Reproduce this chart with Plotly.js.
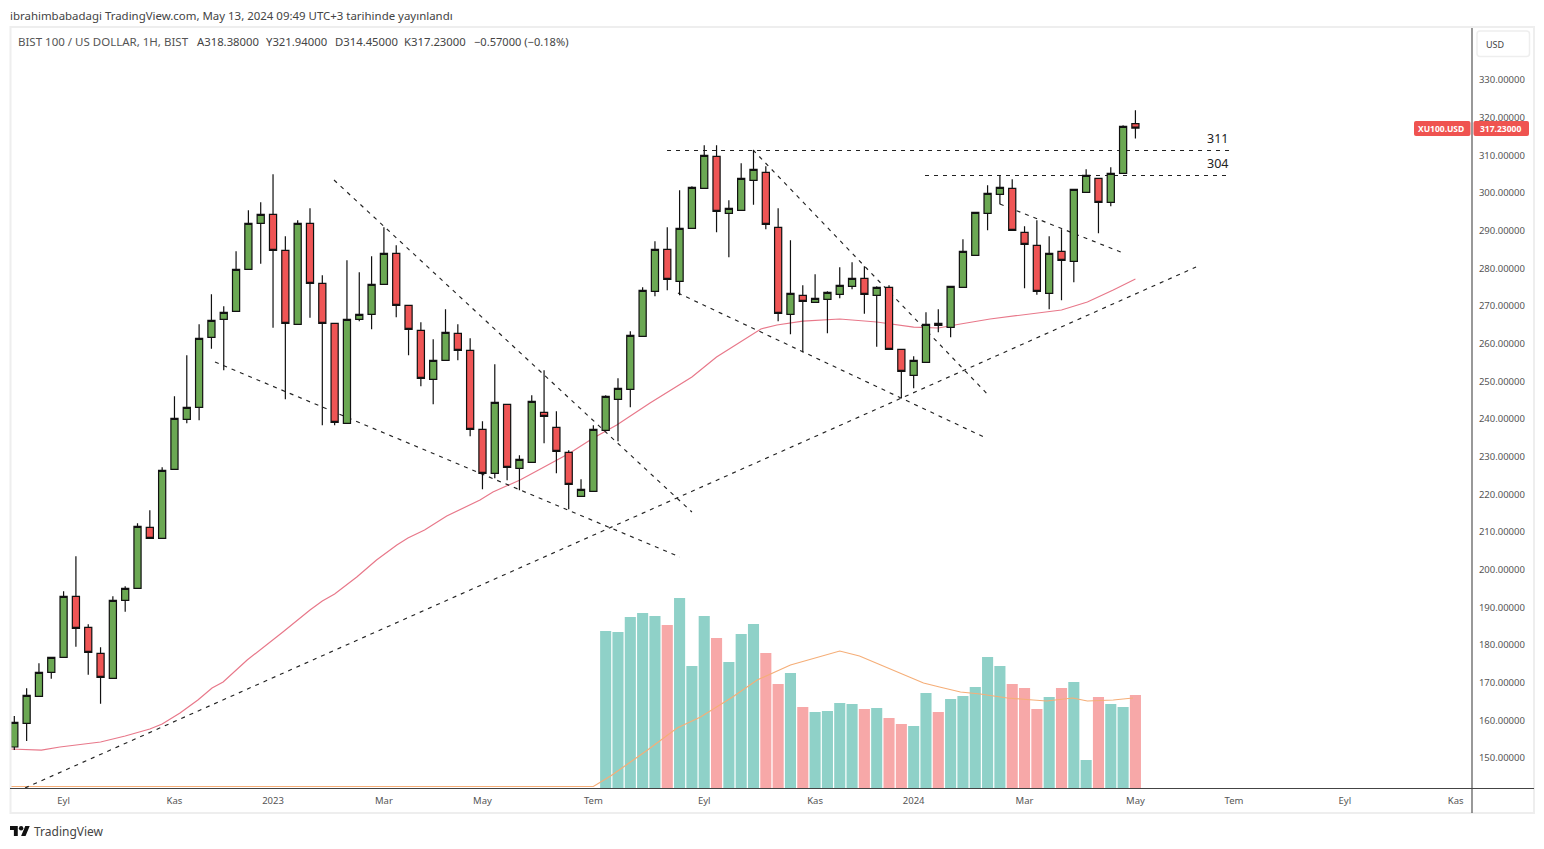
<!DOCTYPE html>
<html><head><meta charset="utf-8">
<script src="https://cdn.plot.ly/plotly-3.0.1.min.js"></script>
<style>html,body{margin:0;padding:0;background:#fff}#chart{width:1544px;height:849px}</style>
</head><body><div id="chart"></div>
<script>
const opens=[152.92,159.21,166.38,172.75,176.73,192.93,184.70,177.79,171.16,191.86,195.05,211.24,208.32,226.64,239.91,243.10,261.68,266.46,268.58,279.73,291.94,294.33,284.77,265.13,291.94,276.01,265.40,238.85,266.46,267.79,275.75,283.98,270.17,263.54,250.53,255.57,262.74,258.23,237.26,225.58,243.89,226.90,228.50,241.77,237.79,231.15,219.47,220.80,236.99,245.22,247.88,261.95,273.89,285.04,276.54,290.62,301.23,309.73,294.60,295.39,303.36,305.48,290.88,267.79,272.83,270.97,271.77,273.09,275.22,277.34,272.83,274.95,258.49,251.59,255.04,265.40,264.33,274.95,283.45,294.60,299.64,301.23,289.55,286.10,273.36,284.51,281.85,300.17,303.89,297.52,305.21,318.38];
const highs=[161.15,168.50,175.14,176.89,194.25,203.54,185.49,179.39,192.93,195.58,212.30,215.75,227.17,246.02,256.90,265.13,273.09,269.91,284.51,295.39,297.52,304.95,288.49,292.74,295.92,278.14,265.40,282.12,278.93,283.18,290.88,286.10,270.17,265.66,261.15,269.11,265.13,261.41,239.38,254.51,243.89,230.35,246.28,252.92,242.04,231.68,223.98,238.32,246.28,250.80,263.27,274.95,287.16,290.88,300.70,301.76,312.65,312.65,298.05,307.87,311.32,307.07,295.92,287.43,275.48,278.40,273.89,280.26,281.59,280.53,275.22,275.48,258.49,256.64,268.32,269.11,275.22,287.69,294.86,302.03,304.68,303.62,291.15,292.74,288.49,290.35,300.97,306.27,303.89,306.81,317.96,321.94];
const lows=[152.12,154.51,166.38,171.05,176.73,179.55,172.11,164.41,171.16,188.84,195.05,208.32,208.32,226.64,238.85,239.65,258.65,252.92,268.58,279.73,281.22,264.23,245.22,265.13,266.88,238.32,238.32,238.85,265.93,263.80,275.75,266.99,256.90,248.67,243.89,255.57,255.57,235.40,221.33,224.25,223.72,221.06,228.50,233.54,225.58,216.02,219.47,220.80,236.99,234.07,243.10,261.95,272.56,274.15,272.83,290.62,301.23,289.55,282.92,295.39,296.88,290.35,265.93,262.48,257.70,270.97,262.74,272.03,274.42,267.95,259.18,258.49,245.49,248.14,255.04,263.01,261.68,274.95,283.45,290.08,296.99,290.08,274.69,272.99,269.11,271.50,276.28,300.17,289.29,296.45,305.21,314.45];
const closes=[159.48,166.64,172.75,176.73,192.93,184.43,178.06,171.42,191.86,195.05,211.51,208.32,226.37,240.18,243.10,261.41,266.19,268.32,279.73,291.94,294.33,284.77,265.40,291.94,276.01,265.40,239.11,266.46,267.79,275.75,283.98,270.17,263.80,250.80,255.57,263.01,258.23,237.26,225.58,244.42,227.17,229.29,244.69,240.71,231.42,222.66,221.33,237.26,246.02,248.14,262.21,274.15,285.04,277.07,290.62,301.50,309.99,295.13,295.92,303.89,306.27,291.68,268.05,273.36,271.23,272.03,273.62,275.48,277.34,273.09,274.95,258.49,252.65,255.57,265.13,264.87,275.22,284.51,294.86,299.91,301.50,290.08,286.37,273.89,283.98,282.12,300.97,304.68,297.52,305.21,317.69,317.23];
const volumes=[0,0,0,0,0,0,0,0,0,0,0,0,0,0,0,0,0,0,0,0,0,0,0,0,0,0,0,0,0,0,0,0,0,0,0,0,0,0,0,0,0,0,0,0,0,0,0,0,1.57,1.56,1.71,1.75,1.72,1.63,1.90,1.22,1.72,1.50,1.26,1.54,1.64,1.35,1.04,1.15,0.81,0.76,0.77,0.85,0.84,0.79,0.80,0.70,0.64,0.62,0.95,0.76,0.89,0.92,1.01,1.31,1.22,1.04,1.00,0.79,0.91,1.00,1.06,0.28,0.91,0.84,0.81,0.93];
const maWeeks=[-0.35,2.2,3.7,7,9,11,12,13.45,14.9,16.05,16.95,18.9,21.8,24,25,26,27.8,29.4,31.05,31.95,33.3,35.1,37.8,38.85,41.05,45.1,47,48.9,51.6,55,57,60.6,61.9,64,67,70,73,75,76.8,79.2,85,87.1,89.2,91];
const maPrices=[152.39,152.12,152.92,154.25,155.84,157.70,159.03,161.95,165.40,168.58,170.17,176.02,183.45,189.29,191.68,193.54,198.05,202.56,206.54,208.40,210.52,214.24,218.49,220.61,223.80,230.97,234.95,238.40,244.24,251.14,256.45,263.9,264.95,266.00,266.54,265.74,264.41,264.15,265.21,266.54,268.93,271.05,274.24,277.15];
const volMaWeeks=[-0.35,47,48.4,51.4,53.8,55.7,58.3,60.3,63,67,68.6,71.1,73.8,75.1,76.8,78.4,80.6,82.7,83.8,85.9,87.1,89.2,90.8];
const volMaValues=[0.015,0.015,0.12,0.38,0.60,0.71,0.91,1.08,1.23,1.37,1.32,1.19,1.05,1.01,0.96,0.94,0.90,0.88,0.87,0.90,0.87,0.88,0.90];
const trendLines=[
 {w:[0.87,95.92],p:[142.04,280.34]},
 {w:[16.29,54.03],p:[255.12,203.36]},
 {w:[25.95,55.0],p:[303.44,215.30]},
 {w:[53.87,78.7],p:[273.44,235.21]},
 {w:[59.96,78.9],p:[311.40,246.89]},
 {w:[52.98,98.92],p:[311.27,311.27]},
 {w:[73.92,98.51],p:[304.63,304.63]},
 {w:[80.0,90.0],p:[297.06,284.06]}
];
const priceTicks=[150,160,170,180,190,200,210,220,230,240,250,260,270,280,290,300,310,320,330];
const timeTickWeeks=[4,13,21,30,38,47,56,65,73,82,91,99,108,117];
const timeTickLabels=['Eyl','Kas','2023','Mar','May','Tem','Eyl','Kas','2024','Mar','May','Tem','Eyl','Kas'];

const weeks=opens.map((_,i)=>i);
const L=10,R=1472,T=28,B=788;
const px=X=>(X-L)/(R-L), py=Y=>(B-Y)/(B-T);
const FONT='"Noto Sans", sans-serif';
function note(text,X,Y,size,color,extra){return Object.assign({text,x:px(X),y:py(Y),xref:'paper',yref:'paper',xanchor:'left',yanchor:'middle',showarrow:false,font:{family:FONT,size,color},borderpad:0},extra||{});}
function rrect(x0,y0,x1,y1,r){const X=a=>px(a),Y=a=>py(a);
 return `M${X(x0+r)},${Y(y0)} L${X(x1-r)},${Y(y0)} Q${X(x1)},${Y(y0)} ${X(x1)},${Y(y0+r)} L${X(x1)},${Y(y1-r)} Q${X(x1)},${Y(y1)} ${X(x1-r)},${Y(y1)} L${X(x0+r)},${Y(y1)} Q${X(x0)},${Y(y1)} ${X(x0)},${Y(y1-r)} L${X(x0)},${Y(y0+r)} Q${X(x0)},${Y(y0)} ${X(x0+r)},${Y(y0)} Z`;}
function pline(x0,y0,x1,y1,color,width){return {type:'line',xref:'paper',yref:'paper',x0:px(x0),y0:py(y0),x1:px(x1),y1:py(y1),line:{color,width},layer:'above'};}
function ppath(path,fill,lineColor,w){return {type:'path',xref:'paper',yref:'paper',path,fillcolor:fill,line:{color:lineColor,width:w},layer:'above'};}

const traces=[
 {type:'bar',x:weeks,y:volumes,yaxis:'y',width:0.9,marker:{color:closes.map((c,i)=>c>=opens[i]?'#8fd1c8':'#f7a8a8'),line:{width:0}},hoverinfo:'skip'},
 {type:'scatter',mode:'lines',x:volMaWeeks,y:volMaValues,yaxis:'y',line:{color:'#f5ae78',width:1.2},hoverinfo:'skip'},
 {type:'scatter',mode:'lines',x:maWeeks,y:maPrices,yaxis:'y2',line:{color:'#e8788a',width:1.2},hoverinfo:'skip'}
];
trendLines.forEach(t=>traces.push({type:'scatter',mode:'lines',x:t.w,y:t.p,yaxis:'y2',line:{color:'#222',width:1.15,dash:'4px,5px'},hoverinfo:'skip'}));
traces.push({type:'candlestick',x:weeks,open:opens,high:highs,low:lows,close:closes,yaxis:'y3',
 increasing:{line:{color:'#111',width:1.2},fillcolor:'#6ba853'},
 decreasing:{line:{color:'#111',width:1.2},fillcolor:'#ef5555'},hoverinfo:'skip'});

const priceRange=[142.04,343.79];
const layout={
 width:1544,height:849,margin:{l:L,r:1544-R,t:T,b:849-B,pad:0},
 paper_bgcolor:'#fff',plot_bgcolor:'#fff',showlegend:false,bargap:0.1,boxgap:0.42,boxgroupgap:0,
 xaxis:{range:[-0.35,118.32],rangeslider:{visible:false},showgrid:false,zeroline:false,tickmode:'array',tickvals:timeTickWeeks,ticktext:timeTickLabels,
  ticks:'outside',ticklen:4,tickcolor:'rgba(0,0,0,0)',tickfont:{family:FONT,size:9.5,color:'#555'},tickangle:0,showline:false},
 yaxis:{range:[0,7.6],visible:false,fixedrange:true},
 yaxis2:{overlaying:'y',side:'right',range:priceRange,showgrid:false,zeroline:false,tickmode:'array',tickvals:priceTicks,tickformat:'.5f',
  ticks:'outside',ticklen:4,tickcolor:'rgba(0,0,0,0)',tickfont:{family:FONT,size:9.5,color:'#555'},showline:false},
 yaxis3:{overlaying:'y',range:priceRange,visible:false},
 shapes:[
  {type:'rect',xref:'paper',yref:'paper',x0:px(10.5),y0:py(27),x1:px(1534),y1:py(813),line:{color:'#eeeeee',width:2},fillcolor:'rgba(0,0,0,0)',layer:'above'},
  pline(10,788.5,1534,788.5,'#444',1.1),
  pline(1472,28,1472,813,'#444',1.1),
  ppath(rrect(1414,121,1470.5,136,2),'#ef5350','#ef5350',0),
  ppath(rrect(1473.5,121,1529,136,2),'#ef5350','#ef5350',0),
  ppath(rrect(1477,31,1529.5,56.5,3),'#fff','#eeeeee',1.5)
 ],
 annotations:[
  note('ibrahimbabadagi TradingView.com, May 13, 2024 09:49 UTC+3 tarihinde yayınlandı',9,15,11.45,'#444'),
  note('BIST 100 / US DOLLAR, 1H, BIST',17,42,11.5,'#555'),
  note('A318.38000',196,42,11.3,'#444'),
  note('Y321.94000',265,42,11.3,'#444'),
  note('D314.45000',334,42,11.3,'#444'),
  note('K317.23000',403,42,11.3,'#444'),
  note('−0.57000 (−0.18%)',473,42,11.1,'#444'),
  note('311',1206,138.5,12.5,'#222'),
  note('304',1206,163,12.5,'#222'),
  note('USD',1485,44.5,9,'#444'),
  note('<b>XU100.USD</b>',1417,128.5,8.5,'#fff'),
  note('<b>317.23000</b>',1479,128.5,8.5,'#fff'),
  note('TradingView',33,831.5,12,'#444')
 ]
};
Plotly.newPlot('chart',traces,layout,{staticPlot:true,displayModeBar:false}).then(()=>{
 const s=document.createElementNS('http://www.w3.org/2000/svg','svg');
 s.setAttribute('viewBox','0 4 36 18');s.setAttribute('width','20');s.setAttribute('height','10');
 s.style.cssText='position:absolute;left:10px;top:826px';
 s.innerHTML='<path d="M14 22H7V11H0V4h14v18ZM28 22h-8l7.5-18h8L28 22Z" fill="#111"/><circle cx="20" cy="8" r="4" fill="#111"/>';
 document.body.appendChild(s);
});
</script></body></html>
